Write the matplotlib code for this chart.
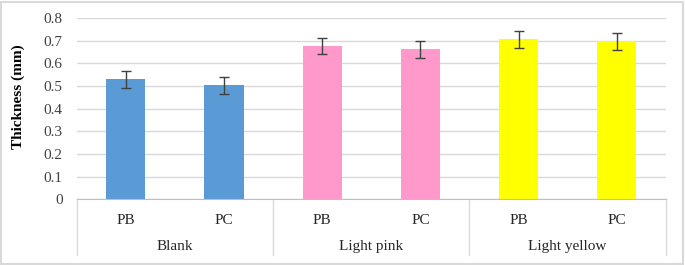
import matplotlib.pyplot as plt
from matplotlib.patches import Rectangle

groups = ["Blank", "Light pink", "Light yellow"]
samples = ["PB", "PC", "PB", "PC", "PB", "PC"]
thickness = [0.53, 0.503, 0.676, 0.662, 0.706, 0.698]
errors = [0.037, 0.038, 0.037, 0.037, 0.037, 0.037]
colors = ["#5B9BD5", "#5B9BD5", "#FF99CC", "#FF99CC", "#FFFF00", "#FFFF00"]

plt.rcParams["font.family"] = ["Liberation Serif", "DejaVu Serif"]

fig = plt.figure(figsize=(6.85, 2.65), dpi=100)
ax = fig.add_axes([0.112, 0.248, 0.86, 0.684])

x = list(range(len(samples)))
ax.bar(x, thickness, width=0.4, color=colors, zorder=2)
ax.errorbar(x, thickness, yerr=errors, fmt="none", ecolor="#404040",
            elinewidth=1, capsize=3.5, capthick=1, zorder=3)

ax.set_xlim(-0.5, 5.5)
ax.set_ylim(0, 0.8)
ax.set_yticks([i / 10 for i in range(9)])
ax.set_yticklabels(["0"] + ["%.1f" % (i / 10) for i in range(1, 9)])
ax.tick_params(axis="y", length=0, labelsize=11, pad=10, labelcolor="#404040")
ax.set_xticks([])
ax.grid(axis="y", color="#D9D9D9", lw=1, zorder=0)
for s in ["top", "right", "left"]:
    ax.spines[s].set_visible(False)
ax.spines["bottom"].set_color("#BFBFBF")
ax.set_ylabel("Thickness (mm)", fontsize=11, fontweight="bold")
ax.yaxis.set_label_coords(-0.088, 0.567)

# two-level category axis
trans = ax.get_xaxis_transform()
for i, s in enumerate(samples):
    ax.text(i, -0.115, s, transform=trans, ha="center", va="center", fontsize=11, color="#262626")
for g, name in enumerate(groups):
    ax.text(2 * g + 0.5, -0.26, name, transform=trans, ha="center", va="center", fontsize=11, color="#262626")
for xd in [-0.5, 1.5, 3.5, 5.5]:
    ax.plot([xd, xd], [0, -0.307], transform=trans, color="#D9D9D9", lw=1, clip_on=False)

fig.patches.append(Rectangle((0.002, 0.004), 0.995, 0.99, transform=fig.transFigure,
                             fill=False, ec="#D9D9D9", lw=1.5))

fig.savefig("out.png", dpi=100)
